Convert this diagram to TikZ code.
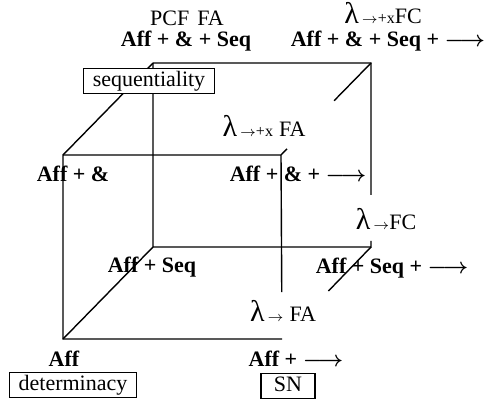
\documentclass[tikz,border=0pt]{standalone}
\usepackage{fontspec}
\setmainfont{Liberation Serif}
\usetikzlibrary{calc}
\newcommand{\lam}[1]{{\fontsize{15}{15}\selectfont λ}\hspace{1.5pt}{\fontsize{7}{7}\selectfont$\rightarrow$}{\fontsize{8}{8}\selectfont#1}}

\begin{document}
\begin{tikzpicture}[x=0.5pt, y=-0.5pt, line width=0.7pt, inner sep=0pt,
  font=\fontsize{11}{13}\selectfont,
  sys/.style={anchor=base, font=\fontsize{11}{13}\selectfont\bfseries\boldmath},
  lang/.style={anchor=base},
  prop/.style={draw, fill=white, line width=0.6pt, inner xsep=4.5pt, inner ysep=1.4pt,
    text height=7.6pt, text depth=2.3pt}]
  \useasboundingbox (0,0) rectangle (485,400);
  % cube corners: front face (f..) and back face (b..)
  \coordinate (f00) at (63,339);  \coordinate (f10) at (282,339);
  \coordinate (f01) at (63,155);  \coordinate (f11) at (281,155);
  \coordinate (b00) at (153,247); \coordinate (b10) at (371,247);
  \coordinate (b01) at (153,63);  \coordinate (b11) at (371,63);
  % front face
  \draw (f10) -- (f00) -- (f01) -- (f11) -- ($(f11)!0.745!(f10)$);
  % back face
  \draw (b01) -- (b11) -- ($(b11)!0.717!(b10)$);
  \draw (b01) -- (b00) -- (b10) -- ($(b10)!0.033!(b11)$);
  % depth edges
  \draw (f01) -- (b01);
  \draw (f00) -- (b00);
  \draw (b11) -- ($(b11)!0.41!(f11)$);
  \draw ($(b11)!0.933!(f11)$) -- (f11);
  \draw (b10) -- ($(b10)!0.478!(f10)$);
  % languages
  \node[lang] (pcf) at (187,26) {PCF\hspace{4pt}FA};
  \node[lang] (lfcx) at (383,24) {\lam{+x}FC};
  \node[lang] (lfax) at (264,137) {\lam{+x}\hspace{3pt}FA};
  \node[lang] (lfc) at (386,229) {\lam{}FC};
  \node[lang] (lfa) at (283,321) {\lam{}\hspace{3pt}FA};
  % systems at the corners
  \node[sys] (aas) at (186,47) {Aff + \& + Seq};
  \node[sys] (aasi) at (388,47) {Aff + \& + Seq + $\longrightarrow$};
  \node[sys] (aa) at (73,182) {Aff + \&};
  \node[sys] (aai) at (298,182) {Aff + \& + $\longrightarrow$};
  \node[sys] (as) at (152,272) {Aff + Seq};
  \node[sys] (asi) at (392,273) {Aff + Seq + $\longrightarrow$};
  \node[sys] (a) at (64,366) {Aff};
  \node[sys] (ai) at (296,366) {Aff + $\longrightarrow$};
  % properties
  \node[prop] (seq) at (149,81) {sequentiality};
  \node[prop] (det) at (73,385) {determinacy};
  \node[prop, minimum width=27pt] (sn) at (288,386) {SN};
\end{tikzpicture}
\end{document}
